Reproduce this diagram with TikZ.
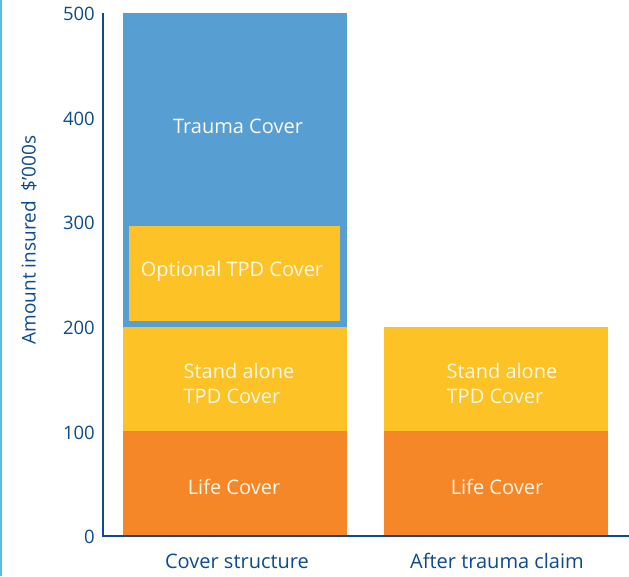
\documentclass[tikz,border=0pt]{standalone}
\usepackage{fontspec}
\setmainfont{Open Sans}
\usetikzlibrary{positioning}
\definecolor{axisblue}{HTML}{0D4A8F}
\definecolor{edgeblue}{HTML}{5BBDE6}
\definecolor{traumablue}{HTML}{579FD3}
\definecolor{tpdyellow}{HTML}{FDC226}
\definecolor{lifeorange}{HTML}{F58729}
\definecolor{labelwhite}{HTML}{FFF8E6}
\tikzstyle{axis_line} = [draw=axisblue, line width=2pt]
\tikzstyle{tick_label} = [anchor=east, inner sep=0pt, text=axisblue, font=\fontsize{18.5}{22}\selectfont]
\tikzstyle{cat_label} = [inner sep=0pt, text=axisblue, font=\fontsize{20}{24}\selectfont]
\tikzstyle{seg_label} = [inner sep=0pt, text=labelwhite, align=left, font=\fontsize{20}{25}\selectfont]

\begin{document}
\begin{tikzpicture}[x=1pt,y=-1pt]
\useasboundingbox (0,0) rectangle (629,576);
\fill[white] (0,0) rectangle (629,576);
\fill[edgeblue] (0,0) rectangle (2,576);
% bars
\fill[lifeorange] (123,431.4) rectangle (347,536);
\fill[tpdyellow] (123,326.8) rectangle (347,431.4);
\fill[traumablue] (123,13) rectangle (347,326.8);
\fill[tpdyellow] (129,226) rectangle (340,321);
\fill[lifeorange] (384,431.4) rectangle (608,536);
\fill[tpdyellow] (384,326.8) rectangle (608,431.4);
% axes
\draw[axis_line] (103,13) -- (103,536) -- (629,536);
\node (T0) at (95,537) [tick_label] {0};
\node (T1) at (95,432.4) [tick_label] {100};
\node (T2) at (95,327.8) [tick_label] {200};
\node (T3) at (95,223.2) [tick_label] {300};
\node (T4) at (95,118.6) [tick_label] {400};
\node (T5) at (95,14) [tick_label] {500};
\node (Y) at (29,240) [cat_label, rotate=90, font=\fontsize{19}{22}\selectfont] {Amount insured \ \$’000s};
\node (C1) at (237,561) [cat_label] {Cover structure};
\node (C2) at (497,561) [cat_label] {After trauma claim};
% segment labels
\node (trauma) at (238,126) [seg_label] {Trauma Cover};
\node (opt) at (232,271) [seg_label] {Optional TPD Cover};
\node (tpd1) at (239,383) [seg_label] {Stand alone\\TPD Cover};
\node (life1) at (234,487) [seg_label] {Life Cover};
\node (tpd2) at (502,383) [seg_label] {Stand alone\\TPD Cover};
\node (life2) at (497,487) [seg_label] {Life Cover};
\end{tikzpicture}
\end{document}
